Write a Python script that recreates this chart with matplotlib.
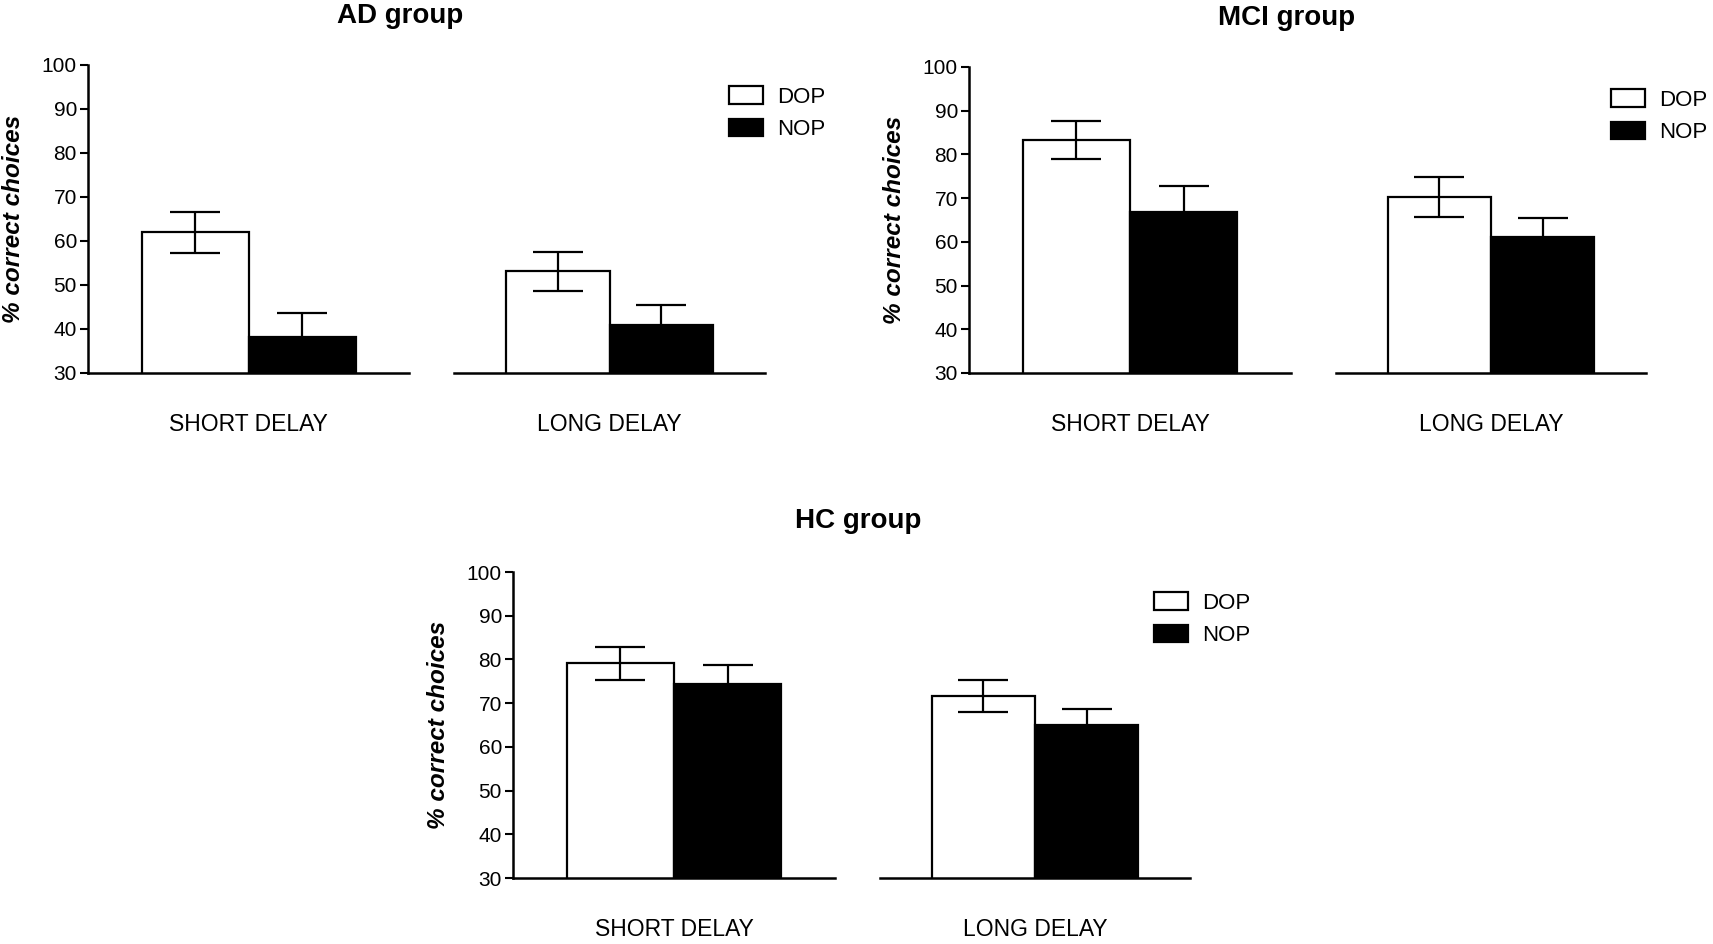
import matplotlib
matplotlib.use("Agg")
import matplotlib.pyplot as plt
from matplotlib.patches import Patch

plt.rcParams['font.family'] = ['Liberation Sans', 'DejaVu Sans']

groups = ["AD group", "MCI group", "HC group"]
delays = ["SHORT DELAY", "LONG DELAY"]
series = ["DOP", "NOP"]

# mean % correct choices, [short, long] per group
dop_mean = [[62.0, 53.1], [83.3, 70.3], [79.1, 71.6]]
nop_mean = [[38.1, 40.8], [66.8, 61.0], [74.3, 64.9]]
dop_err = [[4.7, 4.5], [4.4, 4.6], [3.8, 3.7]]
nop_err = [[5.5, 4.7], [5.9, 4.5], [4.4, 3.7]]

yticks = [30, 40, 50, 60, 70, 80, 90, 100]

W, H = 1713, 944

# pixel boxes: (short left, short right, long left, long right, top, bottom)
layout = [
    (88, 409, 454, 765, 65, 373),
    (969, 1291, 1336, 1646, 67, 373),
    (513, 835, 880, 1190, 572, 878),
]
# title centre x / baseline y, legend box left / top
title_pos = [(400, 23), (1287, 25), (858, 528)]
legend_pos = [(729, 86), (1611, 89), (1154, 592)]


def px_axes(fig, l, r, t, b):
    return fig.add_axes([l / W, 1 - b / H, (r - l) / W, (b - t) / H])


fig = plt.figure(figsize=(W / 100, H / 100), dpi=100)

for g, name in enumerate(groups):
    sl, sr, ll, lr, top, bot = layout[g]
    axes = [px_axes(fig, sl, sr, top, bot), px_axes(fig, ll, lr, top, bot)]
    for d, ax in enumerate(axes):
        ax.bar([0, 1], [dop_mean[g][d], nop_mean[g][d]], width=1.0,
               color=['white', 'black'], edgecolor='black', linewidth=1.6,
               yerr=[dop_err[g][d], nop_err[g][d]], capsize=18,
               error_kw=dict(elinewidth=1.6, capthick=1.6, ecolor='black'))
        ax.set_xlim(-1, 2)
        ax.set_ylim(30, 100)
        ax.set_xticks([])
        ax.spines['top'].set_visible(False)
        ax.spines['right'].set_visible(False)
        ax.spines['bottom'].set_linewidth(1.8)
        ax.spines['left'].set_linewidth(1.8)
        ax.set_xlabel(delays[d], fontsize=16.5, labelpad=29)
        if d == 0:
            ax.set_yticks(yticks)
            ax.tick_params(axis='y', length=6, width=1.5, pad=2, labelsize=15)
            ax.set_ylabel("% correct choices", fontsize=17.5, fontweight='bold',
                          fontstyle='italic')
            ax.yaxis.set_label_coords(-63 / (sr - sl), 0.5)
        else:
            ax.spines['left'].set_visible(False)
            ax.set_yticks([])

    handles = [Patch(facecolor='white', edgecolor='black', linewidth=1.6, label=series[0]),
               Patch(facecolor='black', edgecolor='black', linewidth=1.6, label=series[1])]
    lx, ly = legend_pos[g]
    axes[1].legend(handles=handles, loc='upper left',
                   bbox_to_anchor=(lx / W, 1 - ly / H), bbox_transform=fig.transFigure,
                   frameon=False, fontsize=16, handlelength=1.55, handleheight=0.85,
                   handletextpad=0.6, labelspacing=0.5, borderpad=0, borderaxespad=0)

    tx, ty = title_pos[g]
    fig.text(tx / W, 1 - ty / H, name, ha='center', va='baseline',
             fontsize=20, fontweight='bold')

fig.savefig("out.png", dpi=100)
